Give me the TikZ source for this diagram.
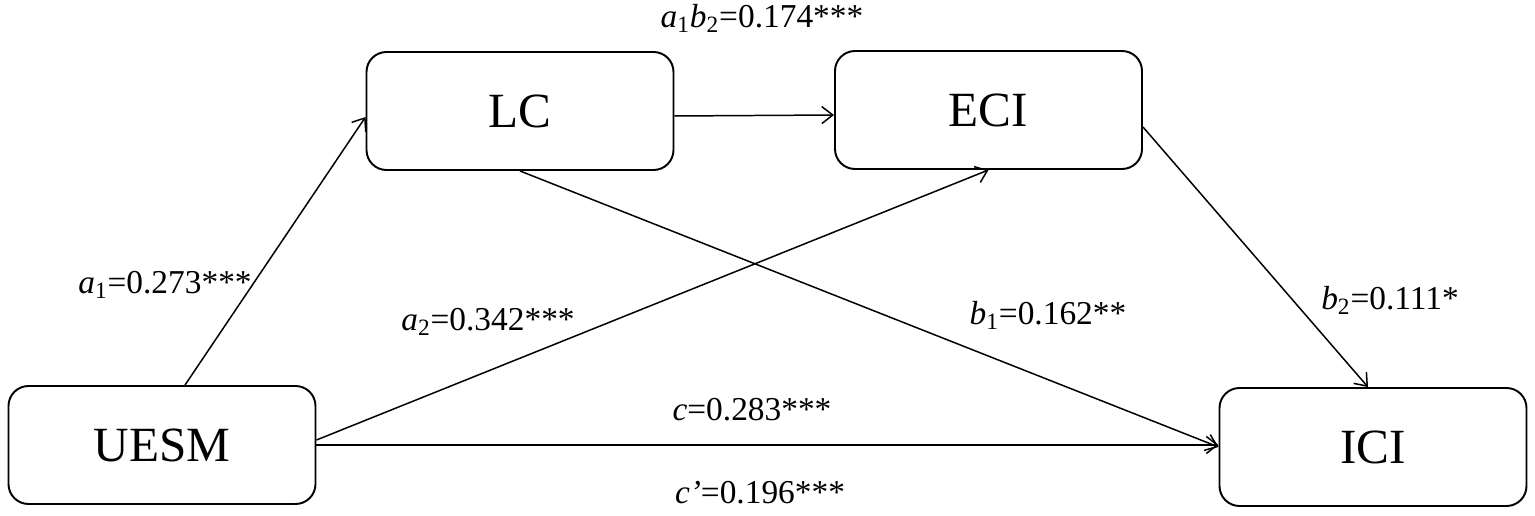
\documentclass[tikz,border=0pt]{standalone}
\usepackage{fontspec}
\setmainfont{Liberation Serif}
\usepackage{tikz}
\usetikzlibrary{arrows.meta}

\begin{document}
\begin{tikzpicture}[
  var/.style = {draw, line width=1.1pt, rounded corners=0.4cm, minimum width=6.14cm, minimum height=2.36cm, font=\fontsize{28}{32}\selectfont},
  path/.style = {line width=0.85pt, -{Straight Barb[length=2.2mm,width=3.4mm]}},
  coef/.style = {font=\fontsize{19}{22}\selectfont, inner sep=0pt}]
\useasboundingbox (0,0) rectangle (30.7,10.3);
% variables
\node[var] (uesm) at (3.24,1.40) {UESM};
\node[var] (lc) at (10.40,8.08) {LC};
\node[var] (eci) at (19.77,8.10) {ECI};
\node[var] (ici) at (27.46,1.36) {ICI};
% paths
\draw[path] ([xshift=0.46cm]uesm.north) -- ([yshift=-0.12cm]lc.west);
\draw[path] ([yshift=-0.1cm]lc.east) -- ([yshift=-0.1cm]eci.west);
\draw[path] ([yshift=0.1cm]uesm.east) -- (eci.south);
\draw[path] (lc.south) -- (ici.west);
\draw[path] (uesm.east) -- (uesm.east -| ici.west);
\draw[path] ([yshift=-0.34cm]eci.east) -- ([xshift=-0.1cm]ici.north);
% coefficients
\path (15.24,9.94) node[coef] (ab) {\textit{a}\textsubscript{1}\textit{b}\textsubscript{2}=0.174***};
\path (3.30,4.60) node[coef] (a1) {\textit{a}\textsubscript{1}=0.273***};
\path (9.76,3.86) node[coef] (a2) {\textit{a}\textsubscript{2}=0.342***};
\path (20.96,4.00) node[coef] (b1) {\textit{b}\textsubscript{1}=0.162**};
\path (27.80,4.30) node[coef] (b2) {\textit{b}\textsubscript{2}=0.111*};
\path (15.04,2.10) node[coef] (c) {\textit{c}=0.283***};
\path (15.20,0.44) node[coef] (cp) {\textit{c’}=0.196***};
\end{tikzpicture}
\end{document}
